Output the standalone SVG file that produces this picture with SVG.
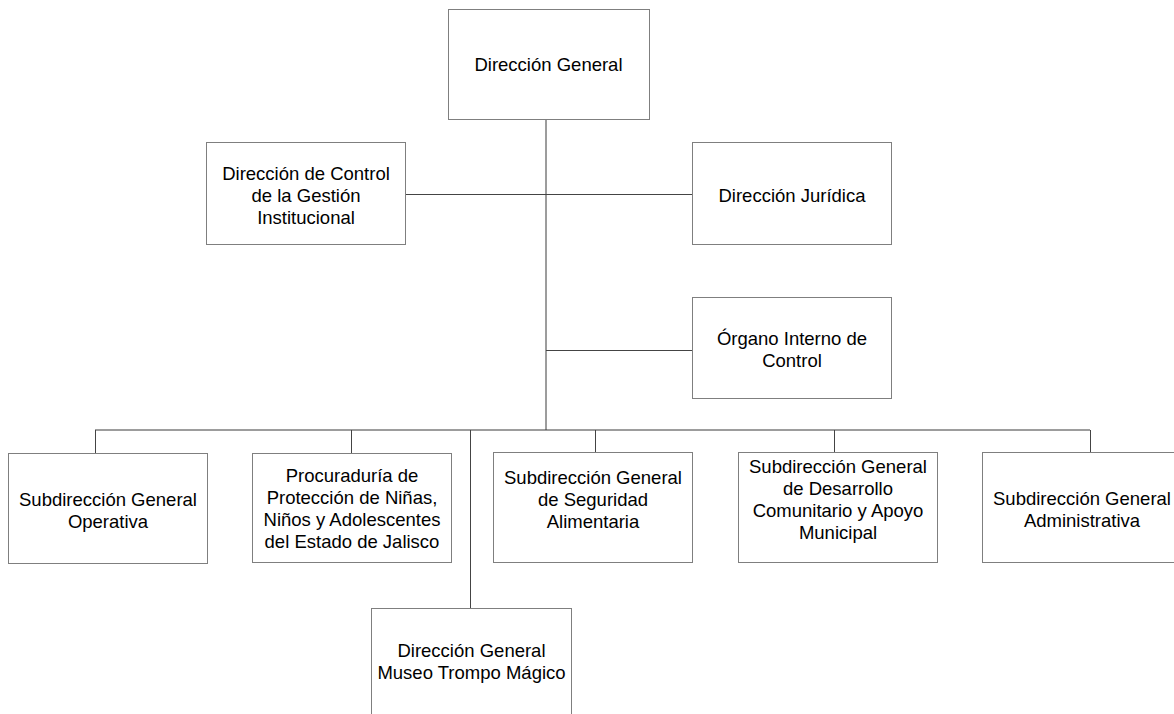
<svg xmlns="http://www.w3.org/2000/svg" width="1174" height="714" viewBox="0 0 1174 714">
  <style>
    .box { fill: #ffffff; stroke: #7f7f7f; stroke-width: 1; }
    .lbl { font-family: "Liberation Sans", Arial, sans-serif; font-size: 18.5px; fill: #000000; text-anchor: middle; }
    .wire { fill: none; stroke: #444444; stroke-width: 1; }
    .soft { fill: none; stroke: #3a3a3a; stroke-width: 1; }
  </style>
  <rect width="1174" height="714" fill="#ffffff"/>

  <!-- connectors -->
  <g id="connectors">
    <path class="soft" d="M546 119 V430"/>
    <path class="wire" d="M405 194.5 H692"/>
    <path class="wire" d="M546 350.5 H692"/>
    <path class="soft" d="M95 430 H1090"/>
    <path class="wire" d="M95.5 430 V453"/>
    <path class="wire" d="M351.5 430 V453"/>
    <path class="wire" d="M595.5 430 V452"/>
    <path class="wire" d="M834.5 430 V452"/>
    <path class="wire" d="M1090.5 430 V452"/>
    <path class="wire" d="M470.5 430 V608"/>
  </g>

  <g id="direccion-general">
    <rect class="box" x="448.5" y="9.5" width="201" height="110"/>
    <text class="lbl" x="548.5" y="71">Dirección General</text>
  </g>

  <g id="control-gestion">
    <rect class="box" x="206.5" y="142.5" width="199" height="102"/>
    <text class="lbl" x="306" y="180">Dirección de Control</text>
    <text class="lbl" x="306" y="202">de la Gestión</text>
    <text class="lbl" x="306" y="224">Institucional</text>
  </g>

  <g id="juridica">
    <rect class="box" x="692.5" y="142.5" width="199" height="102"/>
    <text class="lbl" x="792" y="201.5">Dirección Jurídica</text>
  </g>

  <g id="organo-interno">
    <rect class="box" x="692.5" y="297.5" width="199" height="101"/>
    <text class="lbl" x="792" y="345">Órgano Interno de</text>
    <text class="lbl" x="792" y="367">Control</text>
  </g>

  <g id="sub-operativa">
    <rect class="box" x="8.5" y="453.5" width="199" height="110"/>
    <text class="lbl" x="108" y="505.5">Subdirección General</text>
    <text class="lbl" x="108" y="527.5">Operativa</text>
  </g>

  <g id="procuraduria">
    <rect class="box" x="252.5" y="453.5" width="199" height="109"/>
    <text class="lbl" x="352" y="482">Procuraduría de</text>
    <text class="lbl" x="352" y="504">Protección de Niñas,</text>
    <text class="lbl" x="352" y="526">Niños y Adolescentes</text>
    <text class="lbl" x="352" y="548">del Estado de Jalisco</text>
  </g>

  <g id="sub-seguridad">
    <rect class="box" x="493.5" y="452.5" width="199" height="110"/>
    <text class="lbl" x="593" y="484">Subdirección General</text>
    <text class="lbl" x="593" y="506">de Seguridad</text>
    <text class="lbl" x="593" y="528">Alimentaria</text>
  </g>

  <g id="sub-desarrollo">
    <rect class="box" x="738.5" y="452.5" width="199" height="110"/>
    <text class="lbl" x="838" y="473">Subdirección General</text>
    <text class="lbl" x="838" y="495">de Desarrollo</text>
    <text class="lbl" x="838" y="517">Comunitario y Apoyo</text>
    <text class="lbl" x="838" y="539">Municipal</text>
  </g>

  <g id="sub-administrativa">
    <rect class="box" x="982.5" y="452.5" width="199" height="110"/>
    <text class="lbl" x="1082" y="505">Subdirección General</text>
    <text class="lbl" x="1082" y="527">Administrativa</text>
  </g>

  <g id="museo-trompo">
    <rect class="box" x="371.5" y="608.5" width="200" height="110"/>
    <text class="lbl" x="471.5" y="657">Dirección General</text>
    <text class="lbl" x="471.5" y="679">Museo Trompo Mágico</text>
  </g>
</svg>
